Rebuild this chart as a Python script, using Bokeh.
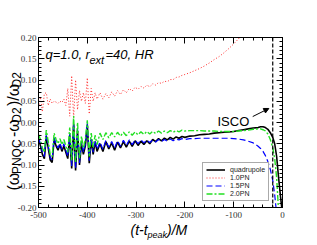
from bokeh.plotting import figure
from bokeh.models import (Range1d, LinearAxis, SingleIntervalTicker, PrintfTickFormatter,
                          Legend, Label, Span, Arrow, NormalHead)
from bokeh.embed import file_html
from bokeh.resources import INLINE

# ---------------- data ----------------
t = [-500, -496, -492, -488, -484, -480, -476, -472, -468, -464, -460, -456, -452, -448, -444, -440,
     -436, -432, -428, -424, -420, -416, -412, -408, -404, -400, -396, -392, -388, -384, -380,
     -374, -368, -362, -356, -350, -344, -338, -332, -326, -320, -314, -308, -302, -296, -290,
     -284, -278, -272, -266, -260, -254, -248, -242, -236, -230, -224, -218, -212, -206, -200,
     -190, -180, -170, -160, -150, -140, -130, -120, -110, -100, -90, -80, -70, -60,
     -50, -45, -40, -35, -30, -25, -20, -16, -12, -8, -4, -1]

quadrupole = [-0.040, -0.055, -0.075, -0.085, -0.032, -0.060, -0.088, -0.094, -0.040, -0.055, -0.065,
              -0.052, -0.068, -0.055, -0.070, -0.085, -0.030, -0.108, -0.005, -0.113, -0.020, -0.100,
              -0.050, -0.075, -0.055, -0.005, -0.096, -0.040, -0.075, -0.045, -0.068,
              -0.050, -0.068, -0.045, -0.062, -0.048, -0.065, -0.046, -0.060, -0.045, -0.058, -0.044,
              -0.056, -0.043, -0.054, -0.044, -0.052, -0.043, -0.050, -0.040, -0.045, -0.038, -0.043,
              -0.037, -0.041, -0.035, -0.039, -0.034, -0.037, -0.033, -0.035,
              -0.032, -0.031, -0.029, -0.028, -0.027, -0.025, -0.024, -0.023, -0.022, -0.021, -0.019,
              -0.017, -0.015, -0.013,
              -0.012, -0.010, -0.010, -0.012, -0.016, -0.024, -0.035, -0.050, -0.080, -0.130, -0.175, -0.205]

pn10 = [0.035, 0.060, 0.025, 0.068, 0.070, 0.040, 0.055, 0.045, 0.050, 0.048, 0.045, 0.050, 0.047,
        0.055, 0.040, 0.080, 0.015, 0.110, 0.010, 0.100, 0.030, 0.075, 0.050, 0.070, 0.045, 0.105,
        0.020, 0.080, 0.050, 0.070, 0.055,
        0.070, 0.055, 0.068, 0.058, 0.072, 0.062, 0.075, 0.066, 0.077, 0.070, 0.080, 0.074, 0.083,
        0.078, 0.085, 0.081, 0.088, 0.084, 0.091, 0.088, 0.094, 0.092, 0.097, 0.096, 0.101, 0.101,
        0.106, 0.107, 0.111, 0.113,
        0.117, 0.122, 0.127, 0.133, 0.140, 0.148, 0.155, 0.164, 0.174, 0.185, 0.197, 0.211, 0.227, 0.245,
        0.27, 0.28, 0.30, 0.32, 0.34, 0.37, 0.40, 0.43, 0.46, 0.50, 0.55, 0.60]

pn15 = [-0.036, -0.050, -0.070, -0.080, -0.028, -0.055, -0.082, -0.088, -0.036, -0.050, -0.060,
        -0.048, -0.063, -0.050, -0.065, -0.080, -0.025, -0.102, 0.000, -0.108, -0.015, -0.095,
        -0.045, -0.070, -0.050, 0.000, -0.090, -0.036, -0.070, -0.041, -0.063,
        -0.046, -0.063, -0.042, -0.058, -0.045, -0.060, -0.043, -0.056, -0.042, -0.054, -0.041,
        -0.052, -0.041, -0.050, -0.041, -0.048, -0.041, -0.047, -0.041, -0.046, -0.040, -0.045,
        -0.040, -0.044, -0.039, -0.043, -0.039, -0.041, -0.038, -0.040,
        -0.038, -0.038, -0.037, -0.037, -0.037, -0.037, -0.037, -0.037, -0.037, -0.038, -0.039,
        -0.041, -0.044, -0.048,
        -0.056, -0.061, -0.068, -0.078, -0.092, -0.110, -0.136, -0.170, -0.215, -0.26, -0.30, -0.33]

pn20 = [-0.028, -0.040, -0.060, -0.070, -0.018, -0.045, -0.075, -0.080, -0.025, -0.040, -0.050,
        -0.038, -0.052, -0.040, -0.055, -0.070, -0.012, -0.090, 0.015, -0.095, 0.000, -0.085,
        -0.032, -0.060, -0.040, 0.005, -0.080, -0.025, -0.058, -0.030, -0.052,
        -0.025, -0.040, -0.024, -0.036, -0.024, -0.034, -0.023, -0.032, -0.023, -0.031, -0.022,
        -0.030, -0.022, -0.029, -0.022, -0.028, -0.021, -0.027, -0.021, -0.026, -0.020, -0.025,
        -0.020, -0.024, -0.019, -0.023, -0.019, -0.022, -0.018, -0.020,
        -0.019, -0.019, -0.019, -0.020, -0.020, -0.020, -0.021, -0.021, -0.021, -0.021, -0.020,
        -0.019, -0.018, -0.016,
        -0.015, -0.015, -0.017, -0.020, -0.027, -0.040, -0.059, -0.085, -0.130, -0.210, -0.26, -0.30]

t_isco = -20
series_names = ["quadrupole", "1.0PN", "1.5PN", "2.0PN"]

# ---------------- figure ----------------
p = figure(width=317, height=245, x_range=Range1d(-500, 0), y_range=Range1d(-0.2, 0.2),
           output_backend="svg", toolbar_location=None,
           min_border_left=36, min_border_right=35, min_border_top=37, min_border_bottom=38)
p.grid.visible = False
p.outline_line_color = "black"
p.outline_line_width = 1
p.background_fill_color = "white"


def style_axis(ax, ticker, fmt, show_labels, standoff):
    ax.ticker = ticker
    ax.formatter = PrintfTickFormatter(format=fmt)
    ax.major_tick_in = 6
    ax.major_tick_out = 0
    ax.minor_tick_in = 3
    ax.minor_tick_out = 0
    ax.major_tick_line_color = "black"
    ax.minor_tick_line_color = "black"
    ax.axis_line_color = "black"
    ax.major_label_standoff = standoff
    if show_labels:
        ax.major_label_text_font = "Liberation Serif"
        ax.major_label_text_font_size = "9px"
        ax.major_label_text_color = "#333333"
    else:
        ax.major_label_text_font_size = "0px"
        ax.major_label_text_alpha = 0


style_axis(p.xaxis[0], SingleIntervalTicker(interval=100, num_minor_ticks=5), "%d", True, 4)
style_axis(p.yaxis[0], SingleIntervalTicker(interval=0.05, num_minor_ticks=5), "%.2f", True, 2)
top_ax = LinearAxis()
right_ax = LinearAxis()
style_axis(top_ax, SingleIntervalTicker(interval=100, num_minor_ticks=5), "%d", False, 0)
style_axis(right_ax, SingleIntervalTicker(interval=0.05, num_minor_ticks=5), "%.2f", False, 0)
p.add_layout(top_ax, "above")
p.add_layout(right_ax, "right")

r_q = p.line(t, quadrupole, line_color="black", line_width=1.6)
r_1 = p.line(t, pn10, line_color="#ff2a2a", line_width=1, line_dash="1 2")
r_15 = p.line(t, pn15, line_color="#0000ff", line_width=1.2, line_dash="6 3")
r_2 = p.line(t, pn20, line_color="#22e022", line_width=1.4, line_dash="6 2 2 2")

p.add_layout(Span(location=t_isco, dimension="height", line_color="black",
                  line_width=1.2, line_dash="4 2"))

legend = Legend(items=[(series_names[0], [r_q]), (series_names[1], [r_1]),
                       (series_names[2], [r_15]), (series_names[3], [r_2])],
                location=(164, 6))
legend.label_text_font = "Liberation Sans"
legend.label_text_font_size = "7px"
legend.label_text_color = "#222222"
legend.glyph_width = 19
legend.glyph_height = 7
legend.label_height = 7
legend.spacing = 1
legend.padding = 3
legend.margin = 0
legend.label_standoff = 5
legend.border_line_color = "#555555"
legend.border_line_width = 1
legend.background_fill_alpha = 1
p.add_layout(legend, "center")

p.add_layout(Arrow(end=NormalHead(size=5, fill_color="black", line_color="black"),
                   x_start=-61, y_start=0.014, x_end=-28, y_end=0.033,
                   line_color="black", line_width=1))


def mk(x, y, text, size, italic=False, angle=0):
    return Label(x=x, y=y, x_units="canvas", y_units="canvas", text=text,
                 text_font="Liberation Sans", text_font_size=f"{size}px",
                 text_font_style="italic" if italic else "normal",
                 text_color="black", text_baseline="alphabetic", text_align="left",
                 angle=angle, angle_units="deg")


NB = "\u00a0"
W = "\u03c9"

# texts inside the frame
p.add_layout(mk(217, 121, "ISCO", 13))
p.add_layout(mk(45, 54, "q=1.0, r", 13, True))
p.add_layout(mk(89, 59, "ext", 11, True))
p.add_layout(mk(105, 54, "=40, HR", 13, True))

# x-axis title (t-t_peak)/M : main run + subscript run (side panels are not clipped)
p.add_layout(mk(130, 229, "(t-t" + NB * 5 + ")/M", 14, True), "below")
p.add_layout(mk(147, 234, "peak", 9, True), "above")

# y-axis title (ω_PNQC-ω_D2)/ω_D2, rotated: main run + subscript run
y0 = 190
p.add_layout(mk(13, y0, "(" + W + NB * 8 + "-" + W + NB * 3 + ")/" + W, 16, False, 90), "right")
p.add_layout(mk(16, y0 - 16.4, "PNQC" + NB * 5 + "D2" + NB * 6 + "D2", 12, False, 90), "left")

open("out.html", "w").write(file_html(p, INLINE))
